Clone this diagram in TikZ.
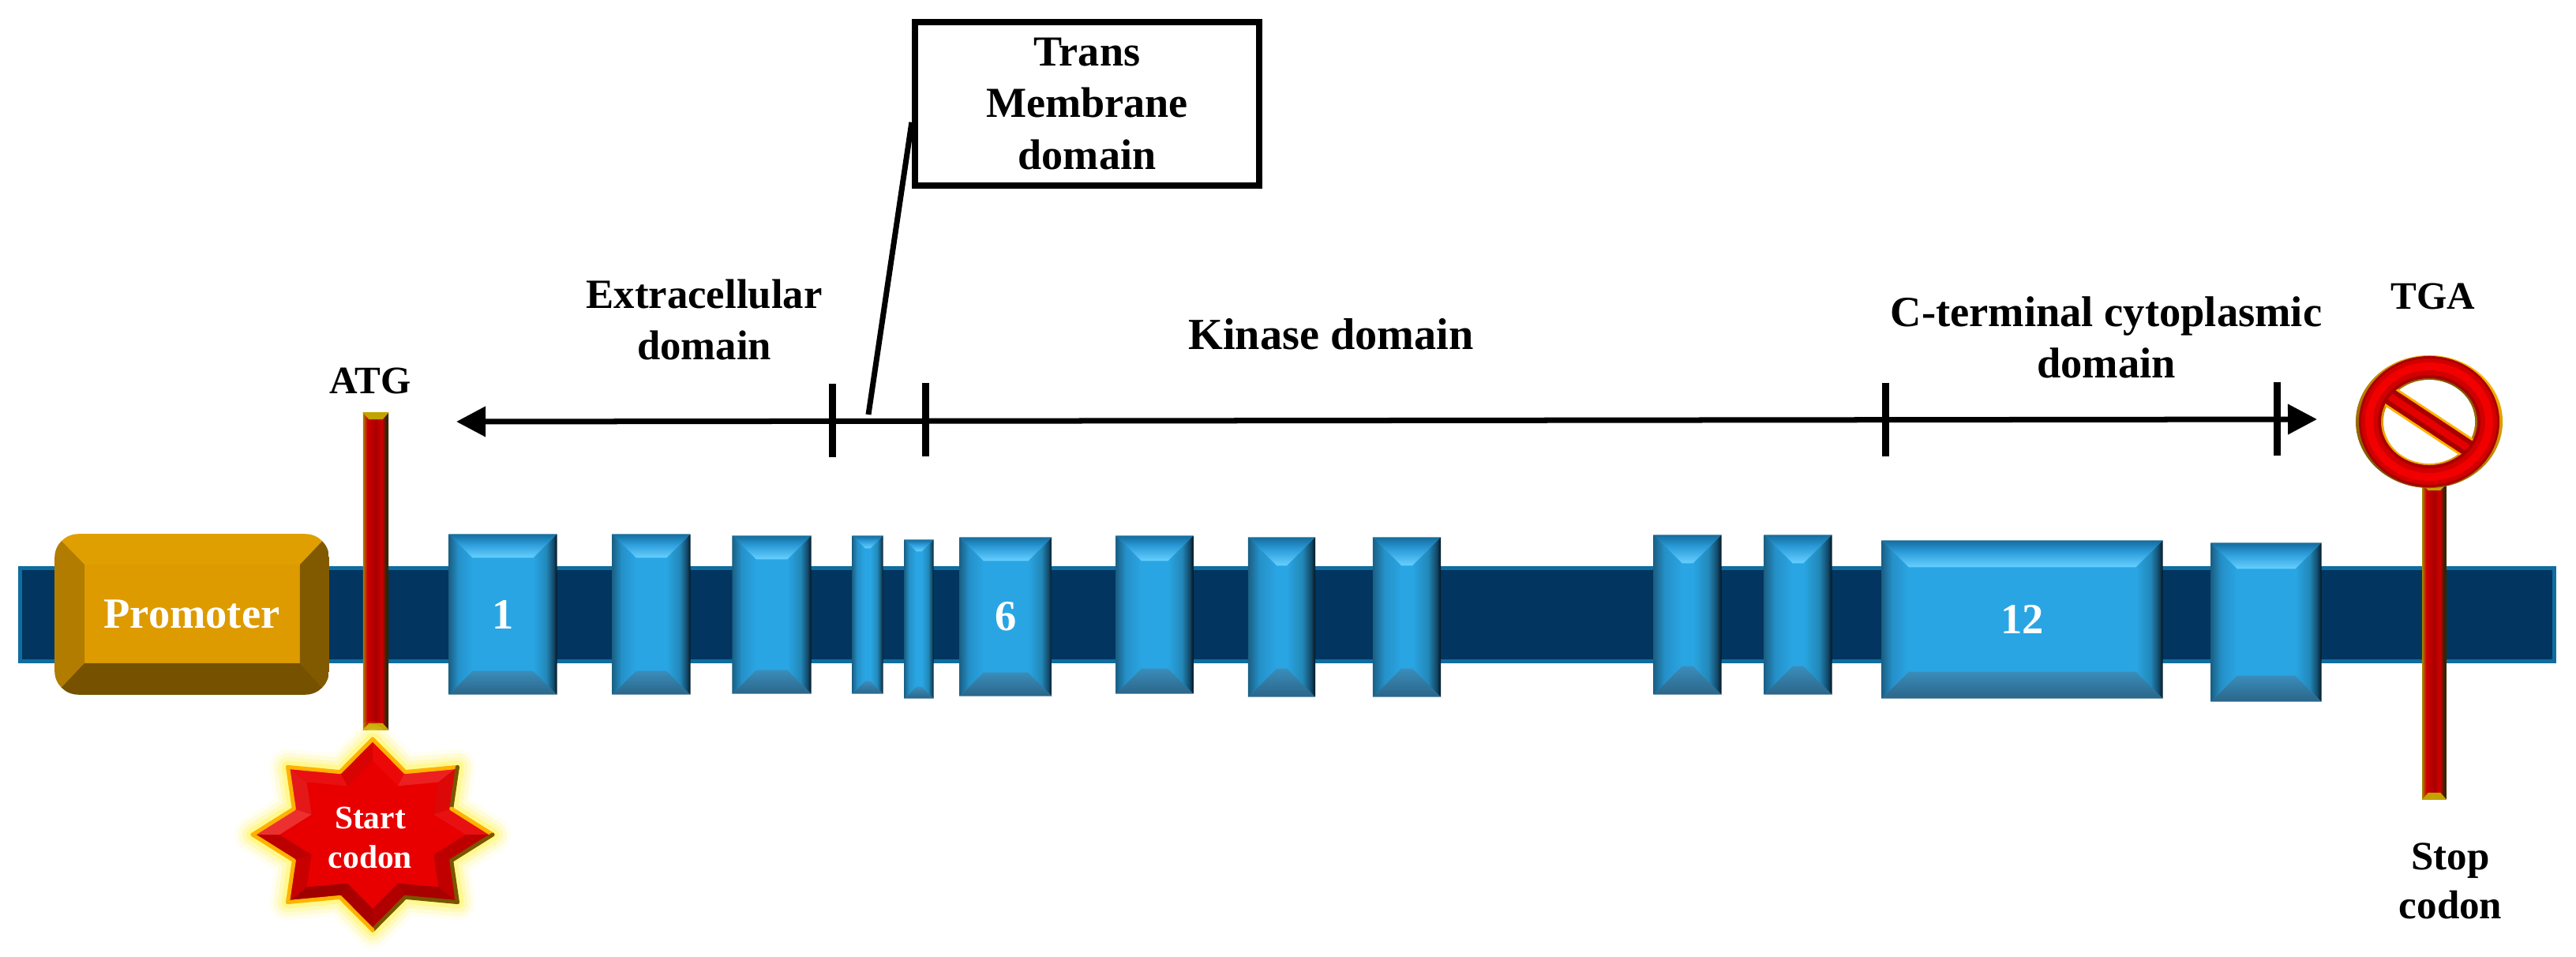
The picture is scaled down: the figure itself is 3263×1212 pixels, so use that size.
\documentclass[tikz,border=0pt]{standalone}
\usepackage{fontspec}
\setmainfont{Liberation Serif}
\usetikzlibrary{arrows.meta,calc,shapes.geometric}

\definecolor{barnavy}{HTML}{02355F}
\definecolor{baredge}{HTML}{0F6D9F}
\definecolor{exonface}{HTML}{29A5E3}
\definecolor{exontopa}{HTML}{146C9C}
\definecolor{exontopm}{HTML}{2A9AD8}
\definecolor{exontopb}{HTML}{66D0FF}
\definecolor{exonleft}{HTML}{1A5F84}
\definecolor{exonleftm}{HTML}{2590C8}
\definecolor{exonrightm}{HTML}{2288B8}
\definecolor{exonrightd}{HTML}{134A6A}
\definecolor{exonright}{HTML}{04141F}
\definecolor{exonbota}{HTML}{3A8DBB}
\definecolor{exonbotb}{HTML}{2B6588}
\definecolor{promface}{HTML}{DE9B00}
\definecolor{rodgold}{HTML}{A87C00}
\definecolor{rodred}{HTML}{D00000}
\definecolor{rodcore}{HTML}{A80000}
\definecolor{rodbrown}{HTML}{3B2200}
\definecolor{signgold}{HTML}{FFB300}
\definecolor{signbrown}{HTML}{7A5500}
\definecolor{starface}{HTML}{E80000}

\pgfdeclarehorizontalshading{rodfill}{100bp}{color(0bp)=(rodgold); color(25bp)=(rodgold); color(33bp)=(rodred); color(50bp)=(rodcore); color(62bp)=(rodred); color(70bp)=(rodbrown); color(100bp)=(rodbrown)}
\pgfdeclareverticalshading{exontopfill}{100bp}{color(0bp)=(exontopb); color(25bp)=(exontopb); color(55bp)=(exontopm); color(75bp)=(exontopa); color(100bp)=(exontopa)}
\pgfdeclarehorizontalshading{exonleftfill}{100bp}{color(0bp)=(exonleft); color(25bp)=(exonleft); color(45bp)=(exonleftm); color(75bp)=(exonface); color(100bp)=(exonface)}
\pgfdeclarehorizontalshading{exonrightfill}{100bp}{color(0bp)=(exonface); color(25bp)=(exonface); color(52bp)=(exonrightm); color(67bp)=(exonrightd); color(75bp)=(exonright); color(100bp)=(exonright)}

% bevel faces round a named box
\newcommand{\bevelfaces}[2]{%
  \shade[shading=exontopfill] (#1.north west) -- (#1.north east) -- ($(#1.north east)+(-#2,#2)$) -- ($(#1.north west)+(#2,#2)$) -- cycle;
  \shade[top color=exonbota, bottom color=exonbotb] (#1.south west) -- (#1.south east) -- ($(#1.south east)+(-#2,-#2)$) -- ($(#1.south west)+(#2,-#2)$) -- cycle;
  \shade[shading=exonleftfill] (#1.north west) -- (#1.south west) -- ($(#1.south west)+(#2,-#2)$) -- ($(#1.north west)+(#2,#2)$) -- cycle;
  \shade[shading=exonrightfill] (#1.north east) -- (#1.south east) -- ($(#1.south east)+(-#2,-#2)$) -- ($(#1.north east)+(-#2,#2)$) -- cycle;
}
% gold end caps of a rod
\newcommand{\rodcaps}[1]{%
  \fill[rodgold!70!yellow] (#1.north west) -- (#1.north east) -- ($(#1.north east)+(-8,9)$) -- ($(#1.north west)+(8,9)$) -- cycle;
  \fill[rodgold!70!yellow] (#1.south west) -- (#1.south east) -- ($(#1.south east)+(-8,-9)$) -- ($(#1.south west)+(8,-9)$) -- cycle;
}
\newcommand{\starpath}{(so0) -- (so1) -- (so2) -- (so3) -- (so4) -- (so5) -- (so6) -- (so7) -- (so8) -- (so9) -- (so10) -- (so11) -- (so12) -- (so13) -- (so14) -- (so15) -- cycle}

\begin{document}
\begin{tikzpicture}[x=0.01cm, y=-0.01cm,
    lbl/.style={font=\bfseries\fontsize{15}{18.5}\selectfont, align=center, inner sep=0pt},
    lblwhite/.style={lbl, text=white},
    exon/.style={rectangle, fill=exonface, inner sep=0pt, text=white, font=\bfseries\fontsize{15.5}{18}\selectfont},
    promoterbox/.style={rectangle, rounded corners=0.3cm, fill=promface, inner sep=0pt, text=white, font=\bfseries\fontsize{15.5}{18}\selectfont, minimum width=3.46cm, minimum height=2.02cm},
    rodbar/.style={rectangle, shading=rodfill, inner sep=0pt},
    domainline/.style={line width=0.07cm},
    domaintick/.style={line width=0.09cm},
    calloutline/.style={line width=0.07cm}]

    \useasboundingbox (0,0) rectangle (3263,1212);
    \fill[white] (0,0) rectangle (3263,1212);

    % gene bar
    \node[rectangle, draw=baredge, line width=0.05cm, fill=barnavy, minimum width=32.08cm, minimum height=1.18cm] (gene) at (1630.5,778.5) {};

    % exons
    \foreach \name/\x/\y/\w/\h/\b/\txt in {
        exa/637/778/136/202/30/1, exb/825/778/98/202/30/,
        exc/977.5/778.5/99/199/30/, exd/1099/778.5/38/199/16/,
        exe/1164/784/36/200/15/, exf/1274/781/116/200/30/6,
        exg/1462.5/778.5/97/199/32/, exh/1623.5/781.5/84/201/36/,
        exi/1782/781.5/85/201/36/, exj/2137.5/778.5/85/201/36/,
        exk/2277.5/778.5/85/201/36/, exl/2561.5/784.5/355/199/34/12,
        exm/2870.5/788/139/200/33/} {
        \node[exon, minimum width=\w*0.01cm, minimum height=\h*0.01cm] (\name) at (\x,\y) {\txt};
        \bevelfaces{\name}{\b}
    }

    % promoter
    \node[promoterbox] (promoter) at (243,778) {Promoter};
    \begin{scope}
        \clip[rounded corners=0.3cm] (promoter.north west) rectangle (promoter.south east);
        \fill[promface!96!yellow] (promoter.north west) -- (promoter.north east) -- ($(promoter.north east)+(-37,39)$) -- ($(promoter.north west)+(38,39)$) -- cycle;
        \fill[promface!80!black] (promoter.north west) -- (promoter.south west) -- ($(promoter.south west)+(38,-40)$) -- ($(promoter.north west)+(38,39)$) -- cycle;
        \fill[promface!58!black] (promoter.north east) -- (promoter.south east) -- ($(promoter.south east)+(-37,-40)$) -- ($(promoter.north east)+(-37,39)$) -- cycle;
        \fill[promface!53!black] (promoter.south west) -- (promoter.south east) -- ($(promoter.south east)+(-37,-40)$) -- ($(promoter.south west)+(38,-40)$) -- cycle;
    \end{scope}

    % rods
    \node[rodbar, minimum width=0.32cm, minimum height=4.01cm] (atgrod) at (476,723.5) {};
    \node[rodbar, minimum width=0.30cm, minimum height=3.99cm] (stoprod) at (3083.5,812.5) {};
    \rodcaps{atgrod}
    \rodcaps{stoprod}

    % start star
    \foreach \i in {0,...,15} {
        \pgfmathsetmacro\srad{mod(\i,2)==0 ? 1 : .71}
        \coordinate (so\i) at ({472+152*\srad*sin(22.5*\i)},{1057-121*\srad*cos(22.5*\i)});
        \coordinate (si\i) at ({472+118*\srad*sin(22.5*\i)},{1057-94*\srad*cos(22.5*\i)});
    }
    \foreach \w/\o in {0.46/.08,0.36/.14,0.26/.22,0.16/.40}
        \draw[yellow!70!white, opacity=\o, line width=\w cm, line join=round] \starpath;
    \fill[starface] \starpath;
    \foreach \i/\j/\fc/\ec in {0/1/EC0808/signgold, 1/2/EC2020/signgold, 2/3/DC0808/signbrown, 3/4/E81010/signgold,
        4/5/BC0000/signbrown, 5/6/C00000/signbrown, 6/7/A80000/signbrown, 7/8/B00000/signbrown,
        8/9/A80000/signgold, 9/10/A00000/signgold, 10/11/C80000/signgold, 11/12/BC0000/signgold,
        12/13/EC3030/signgold, 13/14/E41818/signgold, 14/15/E81010/signgold, 15/0/D80404/signgold} {
        \definecolor{facetcol}{HTML}{\fc}
        \fill[facetcol] (so\i) -- (so\j) -- (si\j) -- (si\i) -- cycle;
        \draw[\ec, line width=0.05cm, line cap=round] (so\i) -- (so\j);
    }
    \node[lblwhite, font=\bfseries\fontsize{11.8}{14}\selectfont] (startcodon) at (469,1061) {Start\\codon};

    % stop sign
    \coordinate (stopc) at (3077,534);
    \coordinate (stopa) at (3021,498);
    \coordinate (stopb) at (3133,572);
    \shade[left color=signgold, right color=signbrown, shading angle=-30] (stopc) ellipse [x radius=0.93cm, y radius=0.84cm];
    \shade[left color=signbrown, right color=signgold, shading angle=-30] (stopc) ellipse [x radius=0.63cm, y radius=0.58cm];
    \fill[white] (stopc) ellipse [x radius=0.58cm, y radius=0.53cm];
    \begin{scope}
        \clip (stopc) ellipse [x radius=0.66cm, y radius=0.60cm];
        \draw[signgold, line width=0.27cm] (stopa) -- (stopb);
        \draw[rodcore, line width=0.21cm] (stopa) -- (stopb);
        \draw[red!90!black, line width=0.09cm] (stopa) -- (stopb);
    \end{scope}
    \draw[rodcore, line width=0.28cm] (stopc) ellipse [x radius=0.75cm, y radius=0.69cm];
    \draw[rodred, line width=0.21cm] (stopc) ellipse [x radius=0.755cm, y radius=0.695cm];
    \draw[red!95!black, line width=0.10cm] (stopc) ellipse [x radius=0.76cm, y radius=0.70cm];

    % domain line
    \coordinate (domleft) at (578,534);
    \coordinate (domright) at (2935,531);
    \coordinate (ticka) at (1054,533);
    \coordinate (tickb) at (1172,532);
    \coordinate (tickc) at (2388,532);
    \coordinate (tickd) at (2884,531);
    \coordinate (tmfoot) at (1100,525);
    \draw[domainline, {Triangle[length=0.37cm,width=0.37cm]}-{Triangle[length=0.37cm,width=0.37cm]}] (domleft) -- (domright);
    \foreach \t in {ticka,tickb,tickc,tickd}
        \draw[domaintick] (\t)+(0,-47) -- +(0,46);

    % labels
    \node[lbl, rectangle, draw, line width=0.08cm, fill=white, minimum width=4.36cm, minimum height=2.07cm, font=\bfseries\fontsize{15.4}{18.5}\selectfont] (tmbox) at (1377,131.5) {Trans\\Membrane\\domain};
    \draw[calloutline] (tmbox.186) -- (tmfoot);
    \node[lbl] (extra) at (892,405) {Extracellular\\domain};
    \node[lbl, font=\bfseries\fontsize{16}{18.5}\selectfont] (kinase) at (1686,423) {Kinase domain};
    \node[lbl, font=\bfseries\fontsize{15.5}{18.5}\selectfont] (cterm) at (2668,427) {C-terminal cytoplasmic\\domain};
    \node[lbl, font=\bfseries\fontsize{14}{18}\selectfont] (atg) at (469,482) {ATG};
    \node[lbl, font=\bfseries\fontsize{14}{18}\selectfont] (tga) at (3082,375) {TGA};
    \node[lbl, font=\bfseries\fontsize{14.5}{17.5}\selectfont] (stopcodon) at (3104,1116) {Stop\\codon};
\end{tikzpicture}
\end{document}
